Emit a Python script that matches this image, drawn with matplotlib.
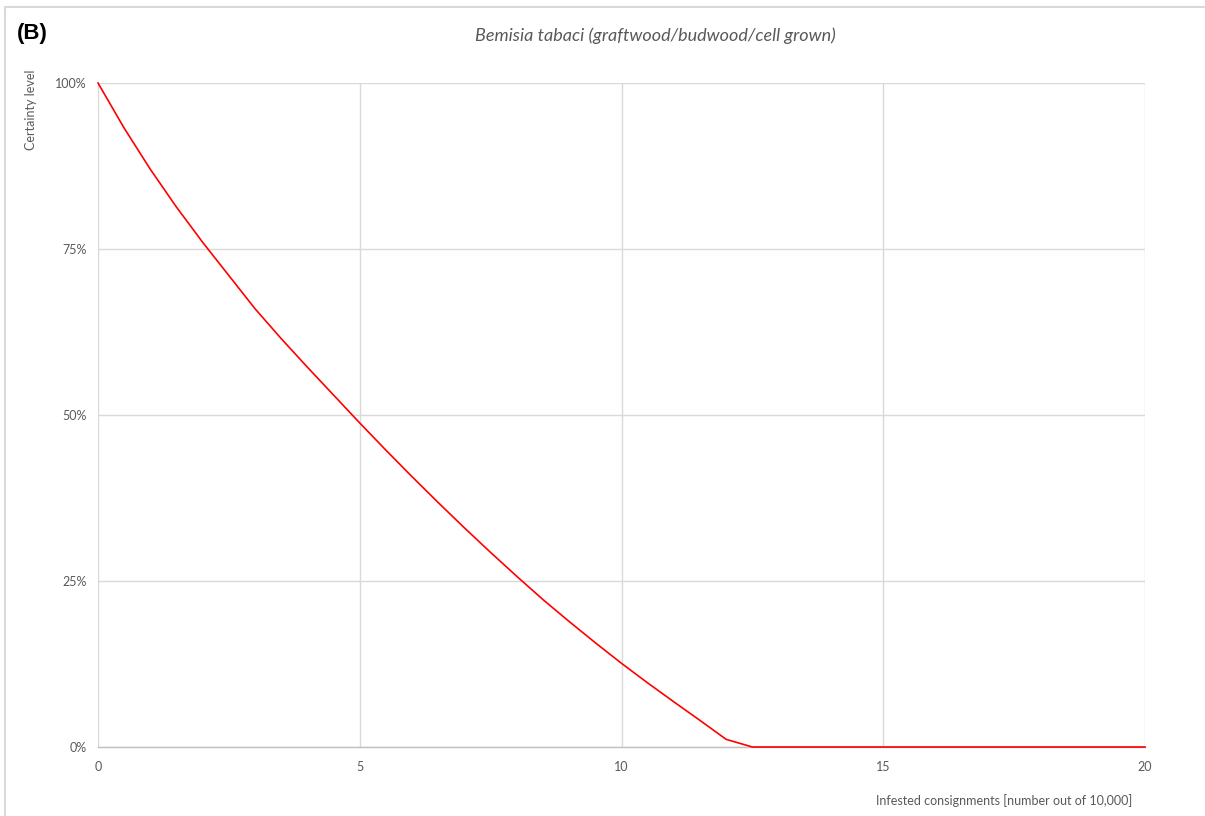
import matplotlib.pyplot as plt
from matplotlib.patches import Rectangle
from matplotlib.ticker import FuncFormatter

# ---------------- data ----------------
infested = [0, 0.5, 1, 1.5, 2, 2.5, 3, 3.5, 4, 4.5, 5, 5.5, 6, 6.5, 7, 7.5, 8,
            8.5, 9, 9.5, 10, 10.5, 11, 11.5, 12, 12.5, 13, 14, 15, 16, 17, 18, 19, 20]
certainty = [100, 93.2, 87.0, 81.3, 76.0, 71.0, 66.0, 61.5, 57.2, 53.0, 48.8, 44.7,
             40.7, 36.8, 33.0, 29.3, 25.7, 22.2, 18.9, 15.7, 12.6, 9.65, 6.8, 4.0,
             1.15, 0, 0, 0, 0, 0, 0, 0, 0, 0]
x_ticks = [0, 5, 10, 15, 20]
y_ticks = [0, 25, 50, 75, 100]

title = "Bemisia tabaci (graftwood/budwood/cell grown)"
panel = "(B)"
xlabel = "Infested consignments [number out of 10,000]"
ylabel = "Certainty level"

# ---------------- figure ----------------
W, H = 1205, 816
fig = plt.figure(figsize=(W / 100, H / 100), dpi=100)
fnt = ['Lato', 'DejaVu Sans']
grey_txt = '#595959'

# light outer frame (only top/left visible in the reference)
fig.add_artist(Rectangle((5 / W, -0.1), 1.2, 1 - 7 / H + 0.1, transform=fig.transFigure,
                         fill=False, edgecolor='#d9d9d9', linewidth=1.5))

ax = fig.add_axes([98 / W, 1 - 747 / H, (1145 - 98) / W, (747 - 83) / H])
ax.plot(infested, certainty, color='#ff0000', linewidth=1.2, zorder=3, clip_on=False)

ax.set_xlim(0, 20)
ax.set_ylim(0, 100)
ax.set_xticks(x_ticks)
ax.set_yticks(y_ticks)
ax.yaxis.set_major_formatter(FuncFormatter(lambda v, p: f"{int(v)}%"))
ax.grid(True, color='#d9d9d9', linewidth=1.0)
ax.set_axisbelow(True)
for s in ['top', 'right', 'left']:
    ax.spines[s].set_visible(False)
ax.spines['bottom'].set_color('#bfbfbf')
ax.spines['bottom'].set_linewidth(1.0)
ax.tick_params(length=0, labelsize=9, labelcolor=grey_txt)
ax.tick_params(axis='x', pad=10)
ax.tick_params(axis='y', pad=8)
for lab in ax.get_xticklabels() + ax.get_yticklabels():
    lab.set_family(fnt)

fig.text(17 / W, 1 - 34 / H, panel, fontsize=16, fontweight='bold',
         family=['Liberation Sans', 'DejaVu Sans'], va='center', ha='left')
fig.text(655 / W, 1 - 36 / H, title, fontsize=13, style='italic', color=grey_txt,
         family=fnt, va='center', ha='center')
fig.text(1132 / W, 1 - 801 / H, xlabel, fontsize=9, color=grey_txt,
         family=fnt, va='center', ha='right')
fig.text(31 / W, 1 - 70 / H, ylabel, fontsize=9, color=grey_txt, rotation=90,
         family=fnt, va='top', ha='center')

fig.savefig("out.png", dpi=100, facecolor='white')
